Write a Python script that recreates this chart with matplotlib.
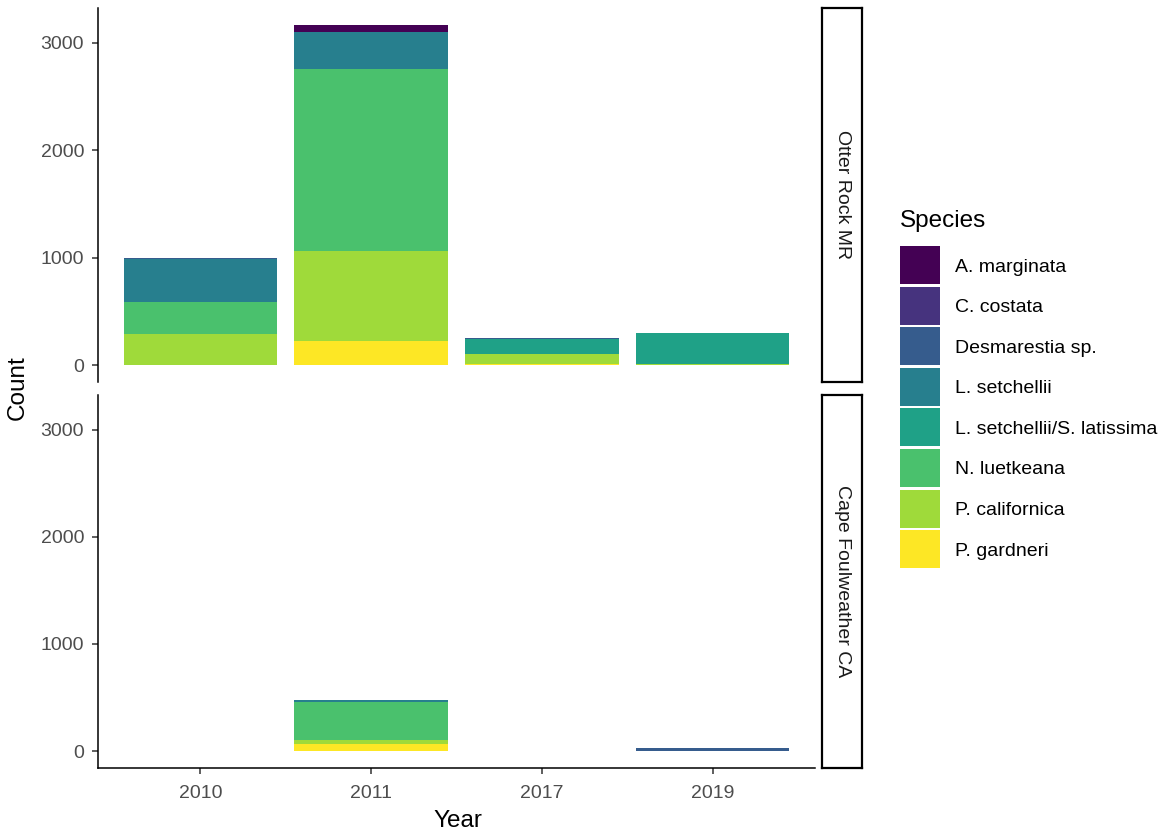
import matplotlib
matplotlib.use("Agg")
import matplotlib.pyplot as plt
from matplotlib.patches import Rectangle
import numpy as np

plt.rcParams['font.family'] = ['Liberation Sans', 'DejaVu Sans']

years = ["2010", "2011", "2017", "2019"]
sites = ["Otter Rock MR", "Cape Foulweather CA"]
species = ["A. marginata", "C. costata", "Desmarestia sp.", "L. setchellii",
           "L. setchellii/S. latissima", "N. luetkeana", "P. californica", "P. gardneri"]
colors = ["#440154", "#46337E", "#365C8D", "#277F8E",
          "#1FA187", "#4AC16D", "#9FDA3A", "#FDE725"]

# counts[site][species] -> values per year
otter_rock = {
    "A. marginata":              [0, 62, 0, 0],
    "C. costata":                [0, 0, 0, 0],
    "Desmarestia sp.":           [8, 0, 8, 0],
    "L. setchellii":             [400, 349, 0, 0],
    "L. setchellii/S. latissima": [0, 0, 140, 290],
    "N. luetkeana":              [306, 1694, 0, 0],
    "P. californica":            [285, 841, 95, 10],
    "P. gardneri":               [0, 220, 10, 0],
}
cape_foulweather = {
    "A. marginata":              [0, 0, 0, 0],
    "C. costata":                [0, 0, 0, 0],
    "Desmarestia sp.":           [0, 0, 0, 30],
    "L. setchellii":             [0, 13, 0, 0],
    "L. setchellii/S. latissima": [0, 0, 0, 0],
    "N. luetkeana":              [0, 357, 0, 0],
    "P. californica":            [0, 37, 0, 0],
    "P. gardneri":               [0, 65, 0, 0],
}
site_data = [otter_rock, cape_foulweather]

W, H = 1167, 832
fig = plt.figure(figsize=(W / 100, H / 100), dpi=100)

def fx(px):
    return px / W

def fy(py):
    return 1 - py / H

panel_left, panel_right = 98, 815
panel_rows = [(8, 382), (395, 768)]
strip_left, strip_right = 822, 862

totals = [np.sum([d[s] for s in species], axis=0) for d in site_data]
ymax = max(t.max() for t in totals)
ylim = (-0.05 * ymax, ymax * 1.05)

tick_color = "#4D4D4D"
tick_size = 14
title_size = 17.5
x = np.arange(1, len(years) + 1)

for i, (data, (top, bottom)) in enumerate(zip(site_data, panel_rows)):
    ax = fig.add_axes([fx(panel_left), fy(bottom), fx(panel_right - panel_left),
                       (bottom - top) / H])
    # stack from the bottom: last species sits at the base
    base = np.zeros(len(years))
    for sp, col in zip(species[::-1], colors[::-1]):
        vals = np.array(data[sp], dtype=float)
        ax.bar(x, vals, width=0.9, bottom=base, color=col, linewidth=0)
        base += vals
    ax.set_xlim(0.4, len(years) + 0.6)
    ax.set_ylim(*ylim)
    ax.set_yticks([0, 1000, 2000, 3000])
    ax.tick_params(axis='y', labelsize=tick_size, colors="#333333", length=4.5, width=1.1,
                   labelcolor=tick_color, pad=5.5)
    for side in ["top", "right"]:
        ax.spines[side].set_visible(False)
    ax.spines["left"].set_linewidth(1.1)
    if i == 0:
        ax.spines["bottom"].set_visible(False)
        ax.set_xticks([])
    else:
        ax.spines["bottom"].set_linewidth(1.1)
        ax.set_xticks(x)
        ax.set_xticklabels(years)
        ax.tick_params(axis='x', labelsize=tick_size, colors="#333333", length=4.5,
                       width=1.1, labelcolor=tick_color, pad=8)
    # facet strip
    sax = fig.add_axes([fx(strip_left), fy(bottom), fx(strip_right - strip_left),
                        (bottom - top) / H])
    sax.set_xticks([])
    sax.set_yticks([])
    for sp in sax.spines.values():
        sp.set_linewidth(1.6)
        sp.set_color("black")
    sax.text(0.5, 0.5, sites[i], rotation=-90, ha="center", va="center",
             fontsize=tick_size, color="#1A1A1A", transform=sax.transAxes)

fig.text(fx(18), fy(388), "Count", rotation=90, ha="center", va="center",
         fontsize=title_size)
fig.text(fx(458), fy(821), "Year", ha="center", va="center", fontsize=title_size)

# legend
fig.text(fx(900), fy(221), "Species", ha="left", va="center", fontsize=title_size)
key_top, key_step, key_h, key_w = 246, 40.6, 38, 40
for k, (sp, col) in enumerate(zip(species, colors)):
    y0 = key_top + k * key_step
    fig.patches.append(Rectangle((fx(900), fy(y0 + key_h)), fx(key_w), key_h / H,
                                 transform=fig.transFigure, facecolor=col,
                                 edgecolor="none"))
    fig.text(fx(955), fy(y0 + key_h / 2 + 2), sp, ha="left", va="center",
             fontsize=tick_size)

fig.savefig("out.png", dpi=100)
